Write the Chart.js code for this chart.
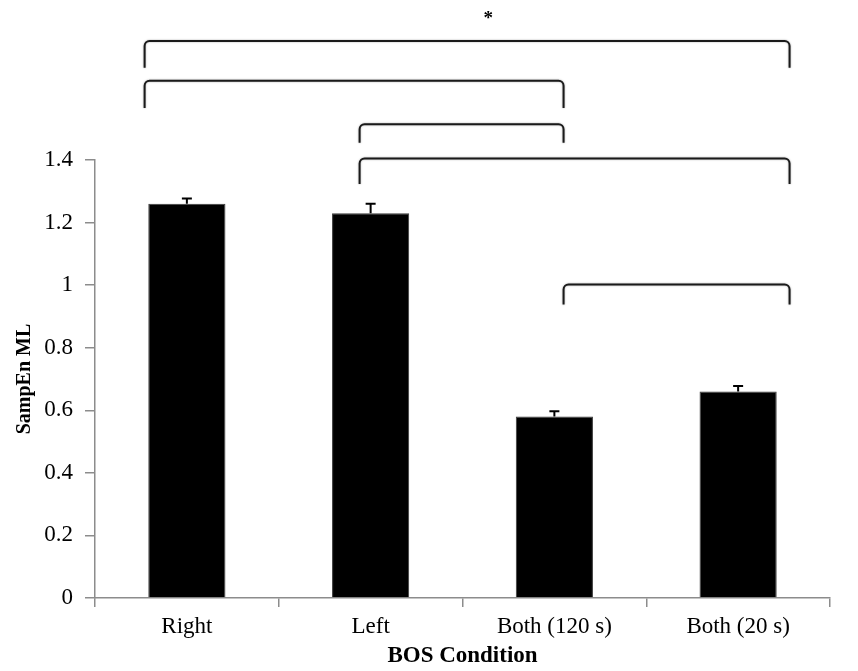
<!DOCTYPE html>
<html>
<head>
<meta charset="utf-8">
<script src="https://cdn.jsdelivr.net/npm/chart.js@4.4.1/dist/chart.umd.min.js"></script>
<style>
  html, body { margin: 0; padding: 0; background: #ffffff; }
  #wrap { width: 858px; height: 671px; }
</style>
</head>
<body>
<div id="wrap"><canvas id="chart" width="858" height="671"></canvas></div>
<script>
// BOS conditions and mean sample entropy (medio-lateral) with standard errors
const categories = ['Right', 'Left', 'Both (120 s)', 'Both (20 s)'];
const sampEnML = [1.26, 1.23, 0.58, 0.66];
const sampEnErr = [0.017, 0.03, 0.017, 0.018];
const yTicks = [0, 0.2, 0.4, 0.6, 0.8, 1, 1.2, 1.4];

// Significant pairwise comparisons (drawn as brackets above the bars)
const comparisons = [
  ['Right', 'Both (20 s)'],
  ['Right', 'Both (120 s)'],
  ['Left', 'Both (120 s)'],
  ['Left', 'Both (20 s)'],
  ['Both (120 s)', 'Both (20 s)']
];
// bracket heights (top, leg end) in SampEn units
const bracketLevels = [
  [1.78, 1.695],
  [1.653, 1.566],
  [1.514, 1.455],
  [1.405, 1.323],
  [1.002, 0.938]
];
// where each condition's bracket leg sits, in category units
const bracketLegX = { 'Right': -0.23, 'Left': 0.94, 'Both (120 s)': 2.05, 'Both (20 s)': 3.28 };
const starMark = { text: '*', x: 1.64, y: 1.85 };

const serif = '"Liberation Serif", "Times New Roman", serif';

const errorBars = {
  id: 'errorBars',
  afterDatasetsDraw(chart) {
    const ctx = chart.ctx;
    const meta = chart.getDatasetMeta(0);
    const y = chart.scales.y;
    ctx.save();
    ctx.strokeStyle = '#000';
    ctx.lineWidth = 2;
    meta.data.forEach((bar, i) => {
      const top = y.getPixelForValue(sampEnML[i] + sampEnErr[i]);
      const base = y.getPixelForValue(sampEnML[i]);
      ctx.beginPath();
      ctx.moveTo(bar.x, base);
      ctx.lineTo(bar.x, top);
      ctx.moveTo(bar.x - 5, top);
      ctx.lineTo(bar.x + 5, top);
      ctx.stroke();
    });
    ctx.restore();
  }
};

const brackets = {
  id: 'brackets',
  afterDraw(chart) {
    const ctx = chart.ctx;
    const xs = chart.scales.x;
    const ys = chart.scales.y;
    const r = 5;
    ctx.save();
    ctx.strokeStyle = '#1a1a1a';
    ctx.lineWidth = 2;
    ctx.lineJoin = 'round';
    ctx.shadowColor = 'rgba(0,0,0,0.35)';
    ctx.shadowBlur = 2;
    comparisons.forEach((pair, k) => {
      const x1 = xs.getPixelForValue(bracketLegX[pair[0]]);
      const x2 = xs.getPixelForValue(bracketLegX[pair[1]]);
      const yTop = ys.getPixelForValue(bracketLevels[k][0]);
      const yEnd = ys.getPixelForValue(bracketLevels[k][1]);
      ctx.beginPath();
      ctx.moveTo(x1, yEnd);
      ctx.arcTo(x1, yTop, x1 + r, yTop, r);
      ctx.arcTo(x2, yTop, x2, yTop + r, r);
      ctx.lineTo(x2, yEnd);
      ctx.stroke();
    });
    ctx.shadowBlur = 0;
    ctx.fillStyle = '#000';
    ctx.font = 'bold 19px ' + serif;
    ctx.textAlign = 'center';
    ctx.textBaseline = 'middle';
    ctx.fillText(starMark.text, xs.getPixelForValue(starMark.x), ys.getPixelForValue(starMark.y));
    ctx.restore();
  }
};

new Chart(document.getElementById('chart'), {
  type: 'bar',
  data: {
    labels: categories,
    datasets: [{
      data: sampEnML,
      backgroundColor: '#000000',
      borderColor: '#3a3a3a',
      borderWidth: 1,
      categoryPercentage: 1,
      barPercentage: 0.42
    }]
  },
  options: {
    responsive: false,
    animation: false,
    devicePixelRatio: 1,
    layout: { padding: { top: 160, right: 28, left: 0, bottom: 0 } },
    plugins: {
      legend: { display: false },
      tooltip: { enabled: false }
    },
    scales: {
      x: {
        afterFit(scale) { scale.height = 73; },
        grid: {
          display: true,
          drawOnChartArea: false,
          drawTicks: true,
          tickLength: 9,
          color: '#8c8c8c',
          lineWidth: 1.5
        },
        border: { display: true, color: '#8c8c8c', width: 1.5 },
        ticks: {
          color: '#000',
          font: { family: serif, size: 23 },
          padding: 6
        },
        title: {
          display: true,
          text: 'BOS Condition',
          color: '#000',
          font: { family: serif, size: 23, weight: 'bold' },
          padding: { top: 0, bottom: 1 }
        }
      },
      y: {
        min: 0,
        max: 1.4,
        afterFit(scale) { scale.width = 95; },
        afterBuildTicks(scale) {
          scale.ticks = yTicks.map(v => ({ value: v }));
        },
        grid: {
          display: true,
          drawOnChartArea: false,
          drawTicks: true,
          tickLength: 10,
          color: '#8c8c8c',
          lineWidth: 1.5
        },
        border: { display: true, color: '#8c8c8c', width: 1.5 },
        ticks: {
          color: '#000',
          font: { family: serif, size: 23 },
          padding: 12,
          callback: v => String(v)
        },
        title: {
          display: true,
          text: 'SampEn ML',
          color: '#000',
          font: { family: serif, size: 20, weight: 'bold' },
          padding: { top: 13, bottom: 3 }
        }
      }
    }
  },
  plugins: [errorBars, brackets]
});
</script>
</body>
</html>
